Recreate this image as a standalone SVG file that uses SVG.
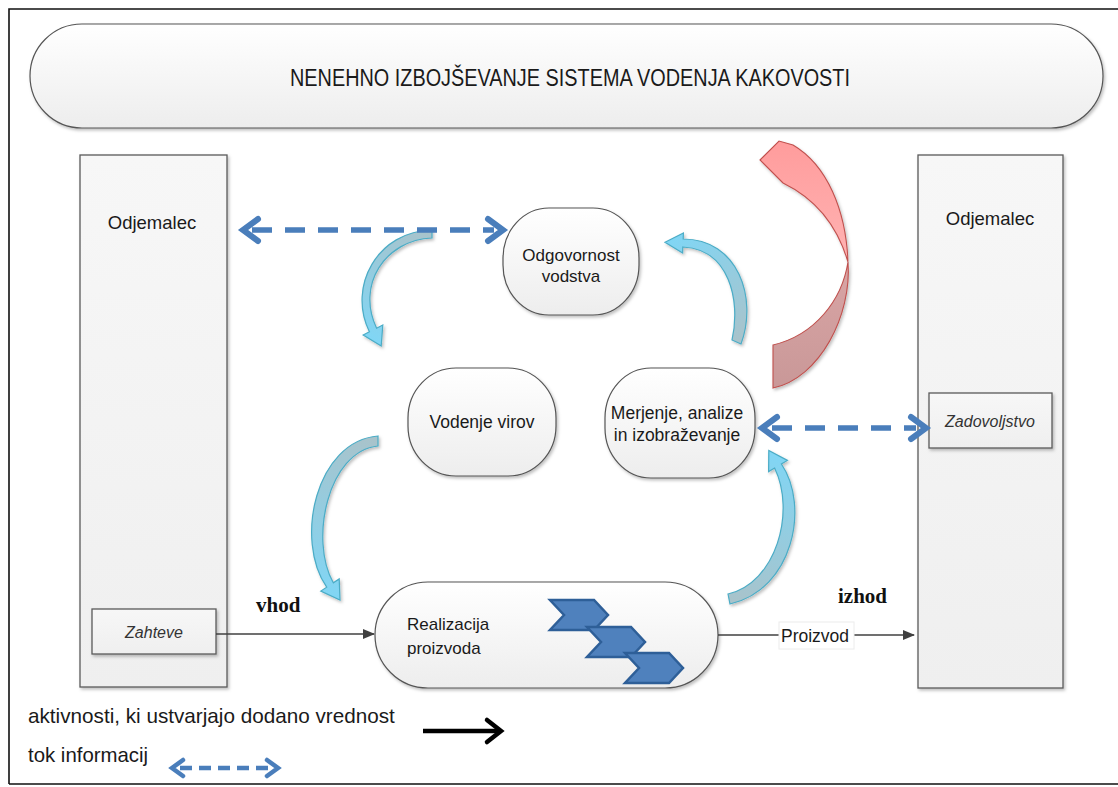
<svg xmlns="http://www.w3.org/2000/svg" width="1118" height="787" viewBox="0 0 1118 787">
<defs>
  <linearGradient id="gNode" x1="0" y1="0" x2="0" y2="1">
    <stop offset="0" stop-color="#ffffff"/>
    <stop offset="1" stop-color="#ededed"/>
  </linearGradient>
  <linearGradient id="gBox" x1="0" y1="0" x2="0" y2="1">
    <stop offset="0" stop-color="#f7f7f7"/>
    <stop offset="1" stop-color="#efefef"/>
  </linearGradient>
  <linearGradient id="gA" gradientUnits="userSpaceOnUse" x1="432" y1="234" x2="380" y2="345">
    <stop offset="0" stop-color="#a8c3cb"/>
    <stop offset="1" stop-color="#80d6f5"/>
  </linearGradient>
  <linearGradient id="gB" gradientUnits="userSpaceOnUse" x1="737" y1="342" x2="665" y2="243">
    <stop offset="0" stop-color="#a8c3cb"/>
    <stop offset="1" stop-color="#80d6f5"/>
  </linearGradient>
  <linearGradient id="gC" gradientUnits="userSpaceOnUse" x1="378" y1="441" x2="338" y2="600">
    <stop offset="0" stop-color="#a8c3cb"/>
    <stop offset="1" stop-color="#80d6f5"/>
  </linearGradient>
  <linearGradient id="gD" gradientUnits="userSpaceOnUse" x1="729" y1="599" x2="770" y2="450">
    <stop offset="0" stop-color="#a8c3cb"/>
    <stop offset="1" stop-color="#80d6f5"/>
  </linearGradient>
  <linearGradient id="gRed1" x1="0" y1="0" x2="0" y2="1">
    <stop offset="0" stop-color="#ff9c9c"/>
    <stop offset="1" stop-color="#ffb3b3"/>
  </linearGradient>
  <linearGradient id="gRed2" x1="0" y1="0" x2="0" y2="1">
    <stop offset="0" stop-color="#d9a5a5"/>
    <stop offset="1" stop-color="#c99898"/>
  </linearGradient>
  <filter id="sh" x="-10%" y="-10%" width="130%" height="130%">
    <feDropShadow dx="1.5" dy="2" stdDeviation="1.5" flood-color="#000" flood-opacity="0.25"/>
  </filter>
  <marker id="tri" markerWidth="12" markerHeight="10" refX="11" refY="5" orient="auto" markerUnits="userSpaceOnUse">
    <path d="M0,0 L12,5 L0,10 Z" fill="#404040"/>
  </marker>
  <style>
    .node { fill: url(#gNode); stroke: #555; stroke-width: 1.2; filter: url(#sh); }
    .box { fill: url(#gBox); stroke: #5a5a5a; stroke-width: 1.3; filter: url(#sh); }
    .t { font-family: "Liberation Sans", Arial, sans-serif; fill: #1a1a1a; }
    .it { font-family: "Liberation Sans", Arial, sans-serif; font-style: italic; fill: #333; font-size: 16px; }
    .ser { font-family: "Liberation Serif", "Times New Roman", serif; font-weight: bold; fill: #111; font-size: 21px; }
    .cy { stroke: #4bacc6; stroke-width: 1.2; filter: url(#sh); }
    .flow { stroke: #404040; stroke-width: 1.3; fill: none; }
    .dash { stroke: #4a7ebb; stroke-width: 5.5; fill: none; stroke-dasharray: 20 13; }
    .head { stroke: #4a7ebb; stroke-width: 6; fill: none; stroke-linejoin: miter; stroke-linecap: round; }
    .chev { fill: #4f81bd; stroke: #2e5f98; stroke-width: 2.5; }
  </style>
</defs>

<rect x="0" y="0" width="1118" height="787" fill="#ffffff"/>
<path d="M9,784 L9,9 L1118,9 M9,784 L1118,784" fill="none" stroke="#111" stroke-width="1.6"/>

<g id="banner">
  <rect x="30" y="24" width="1073" height="104" rx="52" ry="52" class="node"/>
  <text x="570" y="86" text-anchor="middle" class="t" font-family="'Liberation Sans Narrow', 'Liberation Sans', sans-serif" font-size="23" textLength="560" lengthAdjust="spacingAndGlyphs">NENEHNO IZBOJŠEVANJE SISTEMA VODENJA KAKOVOSTI</text>
</g>

<g id="odjemalec-left">
  <rect x="80" y="155" width="147" height="532" class="box"/>
  <text x="152" y="229" text-anchor="middle" class="t" font-size="18.5">Odjemalec</text>
</g>
<g id="zahteve">
  <rect x="92" y="609" width="124" height="45" class="box"/>
  <text x="154" y="638" text-anchor="middle" class="it">Zahteve</text>
</g>

<g id="odjemalec-right">
  <rect x="918" y="155" width="145" height="533" class="box"/>
  <text x="990" y="225" text-anchor="middle" class="t" font-size="18.5">Odjemalec</text>
</g>
<g id="zadovoljstvo">
  <rect x="929" y="393" width="123" height="55" class="box"/>
  <text x="990" y="427" text-anchor="middle" class="it">Zadovoljstvo</text>
</g>

<g id="odgovornost">
  <rect x="503" y="208" width="136" height="107" rx="46" ry="50" class="node"/>
  <text x="571" y="261" text-anchor="middle" class="t" font-size="17">Odgovornost</text>
  <text x="571" y="282" text-anchor="middle" class="t" font-size="17">vodstva</text>
</g>

<g id="vodenje-virov">
  <rect x="408" y="368" width="148" height="108" rx="48" ry="50" class="node"/>
  <text x="482" y="428" text-anchor="middle" class="t" font-size="17.5">Vodenje virov</text>
</g>

<g id="merjenje">
  <rect x="605" y="368" width="150" height="110" rx="46" ry="50" class="node"/>
  <text x="677" y="419" text-anchor="middle" class="t" font-size="17.5">Merjenje, analize</text>
  <text x="677" y="441" text-anchor="middle" class="t" font-size="17.5">in izobraževanje</text>
</g>

<g id="realizacija">
  <rect x="375" y="582" width="343" height="106" rx="53" ry="53" class="node"/>
  <text x="407" y="630" class="t" font-size="17">Realizacija</text>
  <text x="407" y="654" class="t" font-size="17">proizvoda</text>
  <polygon class="chev" points="550,600 594,600 608,615 594,630 550,630 564,615"/>
  <polygon class="chev" points="587,627 631,627 645,642 631,657 587,657 601,642"/>
  <polygon class="chev" points="625,653 669,653 683,668 669,683 625,683 639,668"/>
</g>

<g id="connectors">
  <!-- cyan curved arrows -->
  <path class="cy" fill="url(#gA)" d="M432,230 C 378,231 347,286 369.4,331.8 L363.2,335 L381.2,346 L382.8,325 L376.6,328.2 C 356,285 385,240 432,238 Z"/>
  <path class="cy" fill="url(#gB)" d="M741,344 C 758,298 738,239 683.2,239 L683.4,233 L665,242.3 L682.6,253 L682.8,247 C 729,249 741,300 732,340 Z"/>
  <path class="cy" fill="url(#gC)" d="M378,436 C 316,441 294,540 326.7,587.2 L320.8,591.1 L340,600 L339.2,578.9 L333.3,582.8 C 309,540 328,451 378,446 Z"/>
  <path class="cy" fill="url(#gD)" d="M730,604 C 793,590 810,506 781.4,464 L787.4,460.4 L768.8,450.5 L768.6,471.6 L774.6,468 C 796,512 776,583 728,594 Z"/>

  <!-- red improvement arrow -->
  <path d="M848,262 C 852,315 820,378 773,388 L773,345 C 815,335 842,300 848,262 Z" fill="url(#gRed2)" stroke="#c0504d" stroke-width="1.1" filter="url(#sh)"/>
  <path d="M760,160 L779,141 L793,145 C 827,165 846,210 848,262 C 838,228 818,200 783,183 Z" fill="url(#gRed1)" stroke="#c0504d" stroke-width="1.1" filter="url(#sh)"/>

  <!-- information flow (dashed) -->
  <line class="dash" x1="252" y1="230" x2="494" y2="230"/>
  <polyline class="head" points="258,219 243,230 258,241"/>
  <polyline class="head" points="488,219 503,230 488,241"/>

  <line class="dash" x1="772" y1="428" x2="916" y2="428"/>
  <polyline class="head" points="777,417 762,428 777,439"/>
  <polyline class="head" points="911,417 926,428 911,439"/>

  <!-- value-adding flow -->
  <line class="flow" x1="216" y1="634" x2="374" y2="634" marker-end="url(#tri)"/>
  <line class="flow" x1="718" y1="635" x2="914" y2="635" marker-end="url(#tri)"/>
  <rect x="779" y="622" width="75" height="27" fill="#ffffff" stroke="#ececec" stroke-width="1"/>
  <text x="781" y="642" class="t" font-size="17.5" fill="#222">Proizvod</text>

  <text x="256" y="612" class="ser">vhod</text>
  <text x="838" y="603" class="ser">izhod</text>
</g>

<g id="legend">
  <text x="28" y="723" class="t" font-size="20.7" fill="#222">aktivnosti, ki ustvarjajo dodano vrednost</text>
  <line x1="423" y1="731" x2="499" y2="731" stroke="#000" stroke-width="4.5"/>
  <polyline points="487,720 501,731 487,742" fill="none" stroke="#000" stroke-width="4.5" stroke-linecap="round"/>
  <text x="28" y="762" class="t" font-size="20.4" fill="#222">tok informacij</text>
  <line x1="180" y1="768" x2="270" y2="768" stroke="#4a7ebb" stroke-width="4.5" stroke-dasharray="12 7"/>
  <polyline points="183,760 172,768 183,776" fill="none" stroke="#4a7ebb" stroke-width="4.5" stroke-linecap="round"/>
  <polyline points="267,760 278,768 267,776" fill="none" stroke="#4a7ebb" stroke-width="4.5" stroke-linecap="round"/>
</g>
</svg>
